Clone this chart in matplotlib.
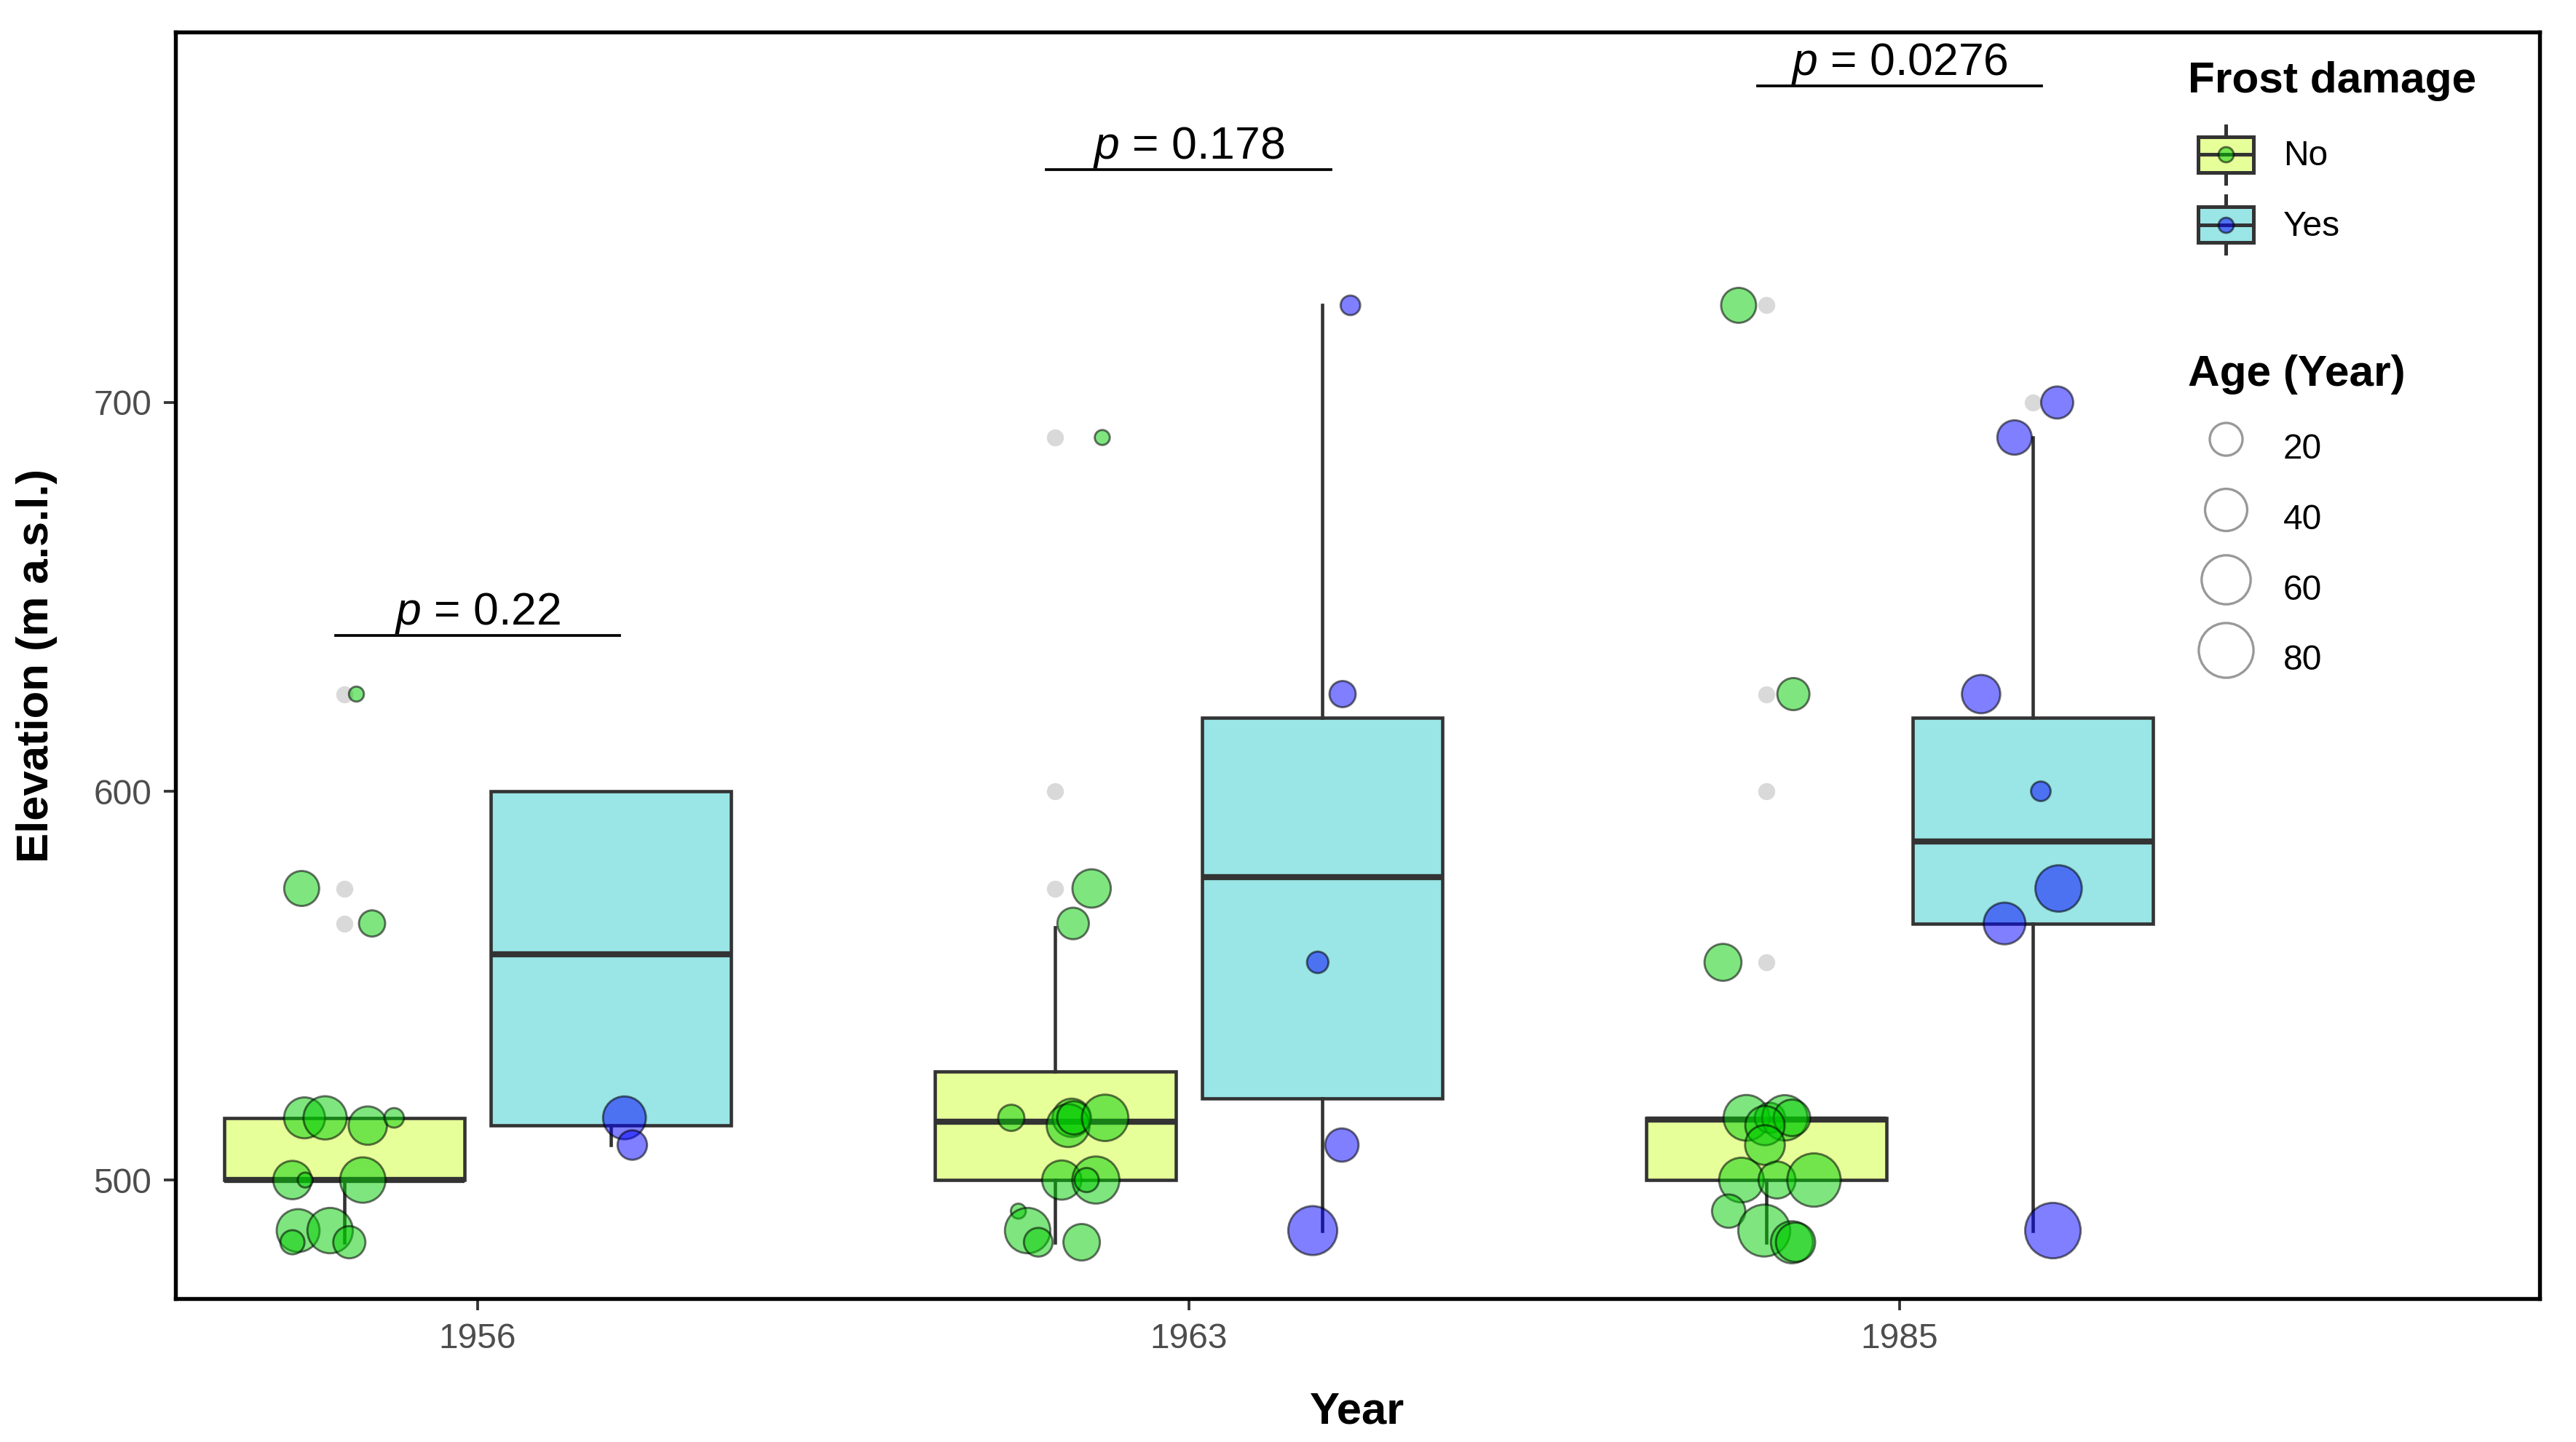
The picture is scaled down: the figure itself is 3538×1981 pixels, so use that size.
import numpy as np
import matplotlib
matplotlib.use("Agg")
import matplotlib.pyplot as plt
from matplotlib.patches import Patch, Rectangle
from matplotlib.lines import Line2D
from matplotlib.legend_handler import HandlerBase

plt.rcParams['font.family'] = ['Liberation Sans', 'DejaVu Sans']
plt.rcParams['mathtext.fontset'] = 'custom'
plt.rcParams['mathtext.rm'] = 'Liberation Sans'
plt.rcParams['mathtext.it'] = 'Liberation Sans:italic'

# ---- data ----
years = ['1956', '1963', '1985']

# box statistics (Frost damage = No)
no_whislo = [484, 484, 484]
no_q1 = [500, 500, 500]
no_med = [500, 515, 515.5]
no_q3 = [516, 528, 516]
no_whishi = [516, 565, 516]
no_fliers = [[625, 575, 566], [691, 600, 575], [725, 625, 600, 556]]

# box statistics (Frost damage = Yes)
yes_whislo = [509, 487, 487]
yes_q1 = [514, 521, 566]
yes_med = [558, 578, 587]
yes_q3 = [600, 619, 619]
yes_whishi = [600, 725, 691]
yes_fliers = [[], [], [700]]

# jittered points, No
no_year = [0] * 14 + [1] * 15 + [2] * 16
no_jitter = [-0.060, 0.039, 0.017, -0.056, -0.027, 0.033, 0.070, -0.073, -0.055, 0.026, -0.065, -0.020, -0.073, 0.007,
             0.051, 0.025, 0.066, -0.062, 0.023, 0.018, 0.026, 0.070, 0.009, 0.057, 0.044, -0.052, -0.039, -0.024, 0.037,
             -0.061, 0.038, -0.039, -0.028, 0.005, 0.026, 0.036, -0.002, -0.002, -0.035, 0.015, 0.067, -0.053, -0.003,
             0.036, 0.041]
no_elev = [575, 566, 625, 516, 516, 514, 516, 500, 500, 500, 487, 487, 484, 484,
           575, 566, 691, 516, 516, 514, 516, 516, 500, 500, 500, 492, 487, 484, 484,
           556, 625, 725, 516, 516, 516, 516, 514, 509, 500, 500, 500, 492, 487, 484, 484]
no_age = [24, 11, 5, 37, 43, 31, 6, 31, 5, 49, 42, 49, 9, 19,
          31, 18, 5, 11, 31, 42, 21, 52, 33, 54, 9, 5, 49, 14, 27,
          28, 19, 24, 50, 16, 49, 27, 33, 34, 47, 28, 75, 21, 70, 40, 33]

# jittered points, Yes
yes_year = [0] * 2 + [1] * 5 + [2] * 7
yes_jitter = [0.019, 0.030,
              -0.006, 0.028, -0.013, 0.029, 0.040,
              0.036, -0.040, 0.028, 0.011, -0.073, 0.034, -0.026]
yes_elev = [516, 509,
            556, 509, 487, 625, 725,
            575, 566, 487, 600, 625, 700, 691]
yes_age = [42, 15,
           7, 21, 60, 11, 6,
           52, 39, 83, 6, 31, 19, 23]

p_labels = ['0.22', '0.178', '0.0276']
p_height = [640, 760, 781.5]

size_breaks = [20, 40, 60, 80]

# ---- style ----
DPI = 300
PX = 72 / DPI  # one pixel in points
dodge = 0.1875
box_w = 0.338
edge = '#333333'
no_fill, yes_fill = '#E6FF99', '#9AE5E6'
no_pt = (0.0, 0.8, 0.0, 0.5)
yes_pt = (0.0, 0.0, 1.0, 0.5)
pt_edge = (0.0, 0.0, 0.0, 0.55)


def age_diam_pt(age):
    age = np.asarray(age, dtype=float)
    d_px = 20.6 + 6.3 * np.sqrt(np.clip(age - 5, 0, None))
    return d_px * PX


def make_stats(whislo, q1, med, q3, whishi, fliers):
    return [dict(whislo=a, q1=b, med=c, q3=d, whishi=e, fliers=f)
            for a, b, c, d, e, f in zip(whislo, q1, med, q3, whishi, fliers)]


class BoxKey(HandlerBase):
    # boxplot + point legend key, centred in the handle area
    def create_artists(self, legend, orig_handle, xdescent, ydescent,
                       width, height, fontsize, trans):
        x0, y0 = -xdescent, -ydescent
        xc, yc = x0 + width / 2, y0 + height / 2
        bw, bh = 76 * PX, 49 * PX
        wh = 79 * PX
        whisk = Line2D([xc, xc], [yc - wh / 2, yc + wh / 2], color=edge, lw=1.2, transform=trans)
        rect = Rectangle((xc - bw / 2, yc - bh / 2), bw, bh, facecolor=orig_handle.get_facecolor(),
                         edgecolor=edge, lw=1.2, transform=trans)
        med = Line2D([xc - bw / 2, xc + bw / 2], [yc, yc], color=edge, lw=1.2, transform=trans)
        dot = Line2D([xc], [yc], marker='o', ms=5, mfc=orig_handle.dot_color,
                     mec=pt_edge, mew=0.7, transform=trans)
        return [whisk, rect, med, dot]


fig = plt.figure(figsize=(3538 / DPI, 1981 / DPI), dpi=DPI)
ax = fig.add_axes([241 / 3538, 1 - 1784 / 1981, (3488 - 241) / 3538, (1784 - 44) / 1981])

pos = np.arange(len(years))
flier_style = dict(marker='o', markerfacecolor='#D9D9D9', markeredgecolor='none', markersize=5.6)
common = dict(widths=box_w, patch_artist=True, showcaps=False, manage_ticks=False,
              whiskerprops=dict(color=edge, lw=1.1),
              medianprops=dict(color=edge, lw=2.0, solid_capstyle='butt'),
              flierprops=flier_style, zorder=2)

ax.bxp(make_stats(no_whislo, no_q1, no_med, no_q3, no_whishi, no_fliers),
       positions=pos - dodge, boxprops=dict(facecolor=no_fill, edgecolor=edge, lw=1.1), **common)
ax.bxp(make_stats(yes_whislo, yes_q1, yes_med, yes_q3, yes_whishi, yes_fliers),
       positions=pos + dodge, boxprops=dict(facecolor=yes_fill, edgecolor=edge, lw=1.1), **common)

ax.scatter(np.array(no_year) - dodge + np.array(no_jitter), no_elev, s=age_diam_pt(no_age) ** 2,
           facecolor=no_pt, edgecolor=pt_edge, linewidth=0.7, zorder=3)
ax.scatter(np.array(yes_year) + dodge + np.array(yes_jitter), yes_elev, s=age_diam_pt(yes_age) ** 2,
           facecolor=yes_pt, edgecolor=pt_edge, linewidth=0.7, zorder=3)

for i, (lab, h) in enumerate(zip(p_labels, p_height)):
    ax.plot([i - 0.2, i + 0.2], [h, h], color='black', lw=0.9, zorder=4)
    ax.annotate('$p$ = ' + lab, xy=(i, h), xytext=(0, 3.6), textcoords='offset points',
                ha='center', va='baseline', fontsize=15, color='black')

ax.set_xlim(-0.425, 2.90)
ax.set_ylim(469.5, 795.3)
ax.set_xticks(pos)
ax.set_xticklabels(years)
ax.set_yticks([500, 600, 700])
ax.tick_params(axis='both', length=3.8, width=0.9, color=edge, labelcolor='#4D4D4D',
               labelsize=11.5, pad=4)
for sp in ax.spines.values():
    sp.set_linewidth(1.3)
    sp.set_color('black')

ax.set_xlabel('Year', fontsize=14.8, fontweight='bold', labelpad=12)
ax.set_ylabel('Elevation (m a.s.l.)', fontsize=14.8, fontweight='bold', labelpad=12)

leg_kw = dict(loc='upper left', bbox_transform=fig.transFigure, frameon=False, fontsize=11.5,
              title_fontproperties=dict(size=14.5, weight='bold'), alignment='left',
              handlelength=2.17, handleheight=2.16, labelspacing=0.37, handletextpad=0.56,
              borderpad=0, borderaxespad=0)
title_gap = 0.37 * 11.5 + 16 * PX  # extra room between legend title and keys

# legend: Frost damage
h_no = Patch(facecolor=no_fill, label='No')
h_no.dot_color = no_pt
h_yes = Patch(facecolor=yes_fill, label='Yes')
h_yes.dot_color = yes_pt
leg1 = ax.legend(handles=[h_no, h_yes], handler_map={Patch: BoxKey()}, title='Frost damage',
                 bbox_to_anchor=(3005 / 3538, 1 - 84 / 1981), **leg_kw)
leg1._legend_box.sep = title_gap
ax.add_artist(leg1)

# legend: Age
size_handles = [Line2D([], [], ls='', marker='o', ms=float(age_diam_pt(b)), mfc='none',
                       mec='#999999', mew=0.8, label=str(b)) for b in size_breaks]
leg2 = ax.legend(handles=size_handles, title='Age (Year)',
                 bbox_to_anchor=(3005 / 3538, 1 - 487 / 1981), **leg_kw)
leg2._legend_box.sep = title_gap

fig.savefig('out.png', dpi=DPI)
